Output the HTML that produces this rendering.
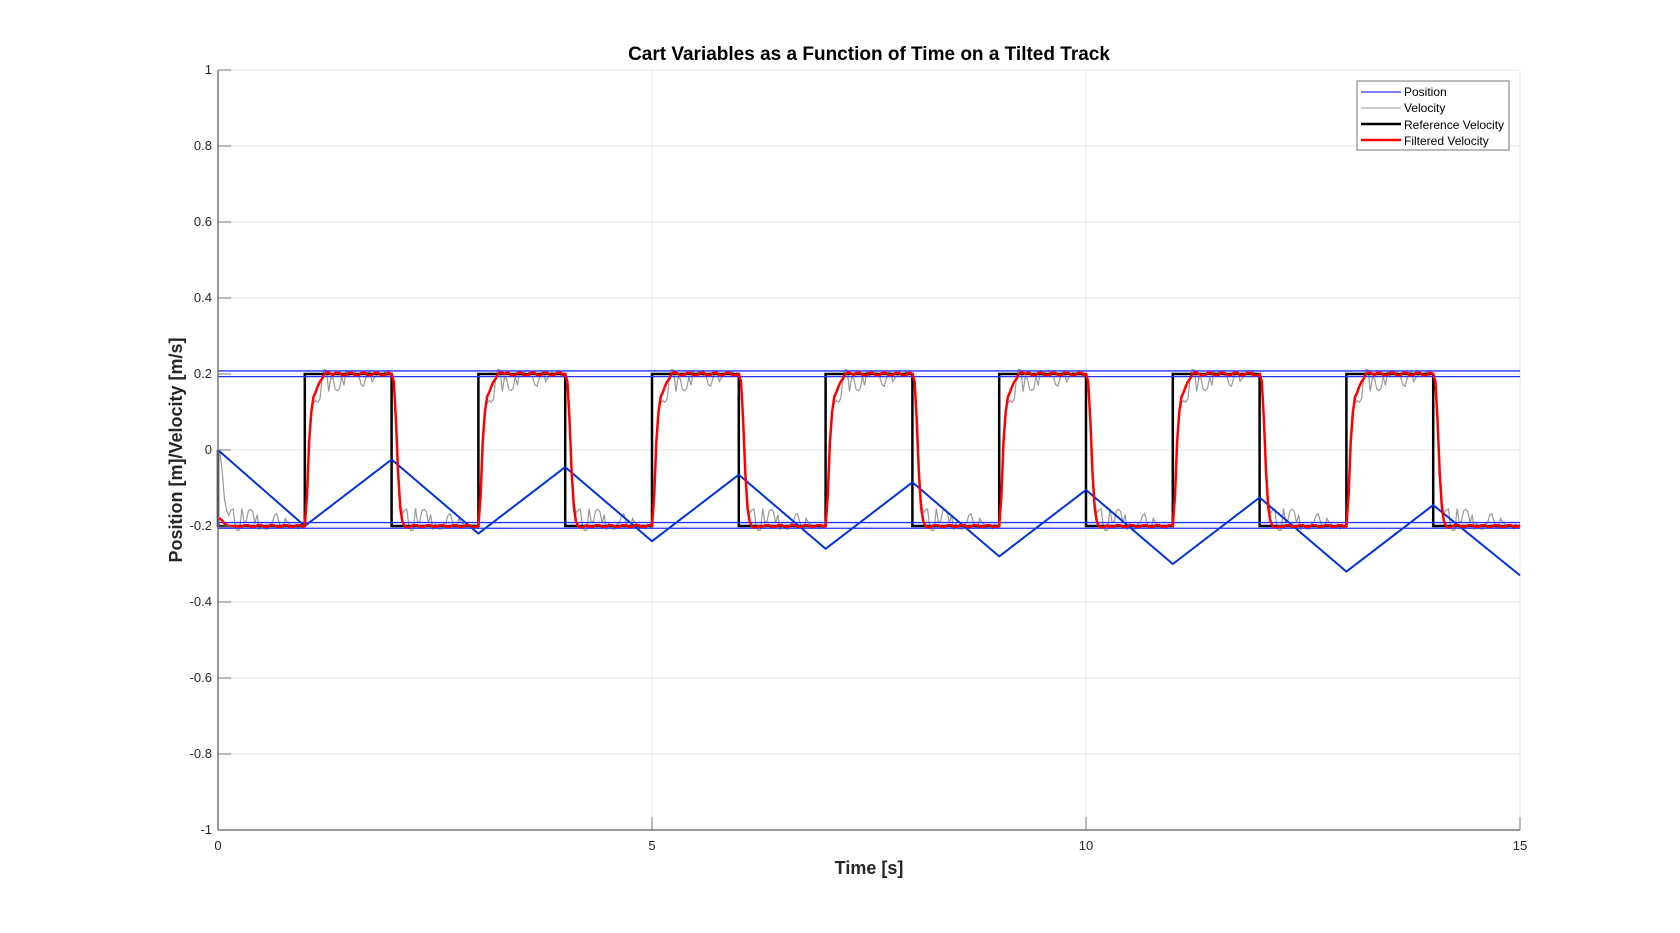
<!DOCTYPE html>
<html><head><meta charset="utf-8"><style>
html,body{margin:0;padding:0;background:#fff;}
svg{display:block;font-family:"Liberation Sans",Arial,sans-serif;}
</style></head><body>
<svg id="chart" width="1680" height="933" viewBox="0 0 1680 933" xmlns="http://www.w3.org/2000/svg">
<rect width="1680" height="933" fill="#fff"/>
<g id="grid"></g>
<g id="series"></g>
<g id="axes"></g>
<text x="869" y="60" text-anchor="middle" font-size="19" font-weight="bold" fill="#000">Cart Variables as a Function of Time on a Tilted Track</text>
<text x="869" y="874" text-anchor="middle" font-size="18" font-weight="bold" fill="#262626">Time [s]</text>
<text transform="translate(182,450) rotate(-90)" text-anchor="middle" font-size="18" font-weight="bold" fill="#262626">Position [m]/Velocity [m/s]</text>
<g id="legend">
<rect x="1357" y="81" width="152" height="69" fill="#fff" stroke="#777" stroke-width="1"/>
<line x1="1361" y1="92" x2="1401" y2="92" stroke="#0000ff" stroke-width="1"/>
<text x="1404" y="96" font-size="12" fill="#000">Position</text>
<line x1="1361" y1="108" x2="1401" y2="108" stroke="#999" stroke-width="1"/>
<text x="1404" y="112" font-size="12" fill="#000">Velocity</text>
<line x1="1361" y1="124" x2="1401" y2="124" stroke="#000" stroke-width="2.5"/>
<text x="1404" y="129" font-size="12" fill="#000">Reference Velocity</text>
<line x1="1361" y1="140" x2="1401" y2="140" stroke="#ff0000" stroke-width="2.5"/>
<text x="1404" y="145" font-size="12" fill="#000">Filtered Velocity</text>
</g>
</svg>
<script>
// ---- data ----
const xTicks = [0, 5, 10, 15];
const yTicks = [-1, -0.8, -0.6, -0.4, -0.2, 0, 0.2, 0.4, 0.6, 0.8, 1];
const yTickLabels = ["-1", "-0.8", "-0.6", "-0.4", "-0.2", "0", "0.2", "0.4", "0.6", "0.8", "1"];
const refSwitchTimes = [0, 1, 2, 3, 4, 5, 6, 7, 8, 9, 10, 11, 12, 13, 14, 15];
const refLevels = [-0.2, 0.2, -0.2, 0.2, -0.2, 0.2, -0.2, 0.2, -0.2, 0.2, -0.2, 0.2, -0.2, 0.2, -0.2];
const posTimes = [0, 1, 2, 3, 4, 5, 6, 7, 8, 9, 10, 11, 12, 13, 14, 15];
const posValues = [0, -0.2, -0.025, -0.22, -0.045, -0.24, -0.065, -0.26, -0.085, -0.28, -0.105, -0.30, -0.125, -0.32, -0.145, -0.33];
// velocity measurement noise (positive = toward the inside of the square wave)
const velNoise = [0.004, -0.008, 0.042, -0.004, 0.01, 0.0, 0.03, -0.012, 0.006, 0.045, -0.006, 0.012, 0.002, -0.01, 0.035, 0.008, -0.004, 0.02, 0.04, -0.008,
                  0.006, 0.0, 0.028, -0.012, 0.01, 0.044, 0.004, -0.006, 0.016, 0.032, -0.01, 0.005, 0.038, 0.0, -0.008, 0.022, 0.012, 0.046, -0.004, 0.008];
const riseShape = [0.0, 0.2, 0.55, 0.75, 0.85, 0.88, 0.92, 0.95, 0.97, 1.0, 1.01, 1.01, 1.0];
const fallShape = [0.0, 0.05, 0.3, 0.65, 0.88, 0.97, 1.0, 1.01, 1.01, 1.0];
const bandValues = [0.208, 0.193, -0.191, -0.206];

// ---- axes ----
const X0 = 218, X1 = 1520, Y0 = 830, Y1 = 70;
const xs = t => X0 + (t - 0) / 15 * (X1 - X0);
const ys = v => Y0 - (v + 1) / 2 * (Y0 - Y1);
const NS = "http://www.w3.org/2000/svg";
function mk(tag, attrs, parent) {
  const e = document.createElementNS(NS, tag);
  for (const k in attrs) e.setAttribute(k, attrs[k]);
  parent.appendChild(e);
  return e;
}
const grid = document.getElementById('grid');
const axes = document.getElementById('axes');
const series = document.getElementById('series');

yTicks.forEach((v, i) => {
  const gl = mk('line', {x1: X0, x2: X1, y1: ys(v), y2: ys(v), stroke: '#e6e6e6', 'stroke-width': 1}, grid);
  
  
  const tk = mk('line', {x1: X0, x2: X0 + 13, y1: ys(v), y2: ys(v), stroke: '#777', 'stroke-width': 1}, axes);
  
  
  const tl = mk('text', {x: X0 - 6, y: ys(v) + 4, 'text-anchor': 'end', 'font-size': 13, fill: '#262626'}, axes);
  tl.textContent = yTickLabels[i];
  
  
});
xTicks.forEach(t => {
  const gl = mk('line', {x1: xs(t), x2: xs(t), y1: Y1, y2: Y0, stroke: '#e6e6e6', 'stroke-width': 1}, grid);
  
  
  const tk = mk('line', {x1: xs(t), x2: xs(t), y1: Y0, y2: Y0 - 13, stroke: '#777', 'stroke-width': 1}, axes);
  
  
  const tl = mk('text', {x: xs(t), y: Y0 + 20, 'text-anchor': 'middle', 'font-size': 13, fill: '#262626'}, axes);
  tl.textContent = String(t);
  
  
});
const xa = mk('line', {x1: X0, x2: X1, y1: Y0, y2: Y0, stroke: '#777', 'stroke-width': 1.5}, axes);


const ya = mk('line', {x1: X0, x2: X0, y1: Y1, y2: Y0, stroke: '#777', 'stroke-width': 1.5}, axes);


const tb = mk('line', {x1: X0, x2: X1, y1: Y1, y2: Y1, stroke: '#e6e6e6', 'stroke-width': 1}, grid);


const rb = mk('line', {x1: X1, x2: X1, y1: Y1, y2: Y0, stroke: '#e6e6e6', 'stroke-width': 1}, grid);



// ---- series ----
const dt = 0.025;
function refAt(t) {
  for (let i = 0; i < refLevels.length; i++) if (t >= refSwitchTimes[i] && t < refSwitchTimes[i + 1]) return refLevels[i];
  return refLevels[refLevels.length - 1];
}
const N = Math.round(15 / dt);
let vpts = [];
for (let k = 0; k <= N; k++) {
  const t = k * dt;
  const r = refAt(t);
  const seg = Math.min(Math.floor(t), 14);
  const j = Math.round((t - seg) / dt);
  const prev = seg === 0 ? 0 : refLevels[seg - 1];
  const shape = r > 0 ? riseShape : fallShape;
  const f = j < shape.length ? shape[j] : 1;
  let v = prev + (r - prev) * Math.min(f, 1);
  if (j > 3) v += (r > 0 ? -1 : 1) * velNoise[(k * 7) % velNoise.length];
  vpts.push(xs(t).toFixed(1) + ',' + ys(v).toFixed(1));
}
const velLine = mk('polyline', {points: vpts.join(' '), fill: 'none', stroke: '#999', 'stroke-width': 1.2}, series);



let rpts = [xs(0) + ',' + ys(0)];
refLevels.forEach((l, i) => {
  rpts.push(xs(refSwitchTimes[i]) + ',' + ys(l));
  rpts.push(xs(refSwitchTimes[i + 1]) + ',' + ys(l));
});
const refLine = mk('polyline', {points: rpts.join(' '), fill: 'none', stroke: '#000', 'stroke-width': 2.5}, series);



let ppts = posTimes.map((t, i) => xs(t).toFixed(1) + ',' + ys(posValues[i]).toFixed(1));
const posLine = mk('polyline', {points: ppts.join(' '), fill: 'none', stroke: '#0033dd', 'stroke-width': 2, 'stroke-linejoin': 'round'}, series);



bandValues.forEach(b => {
  const bl = mk('line', {x1: X0, x2: X1, y1: ys(b), y2: ys(b), stroke: '#2233ff', 'stroke-width': 1.3}, series);
  
  
});

let fpts = [];
for (let k = 0; k <= N; k++) {
  const t = k * dt;
  const r = refAt(t);
  const seg = Math.min(Math.floor(t), 14);
  const j = Math.round((t - seg) / dt);
  const prev = seg === 0 ? -0.18 : refLevels[seg - 1];
  const shape = r > 0 ? riseShape : fallShape;
  const f = j < shape.length ? shape[j] : 1;
  let v = prev + (r - prev) * f;
  if (j >= shape.length) v = r + (r > 0 ? 0.003 : 0.002) * ((k % 6) < 3 ? 1 : -1);
  fpts.push(xs(t).toFixed(1) + ',' + ys(v).toFixed(1));
}
const filtLine = mk('polyline', {points: fpts.join(' '), fill: 'none', stroke: '#ff0000', 'stroke-width': 2.5, 'stroke-linejoin': 'round'}, series);


</script>
</body></html>
